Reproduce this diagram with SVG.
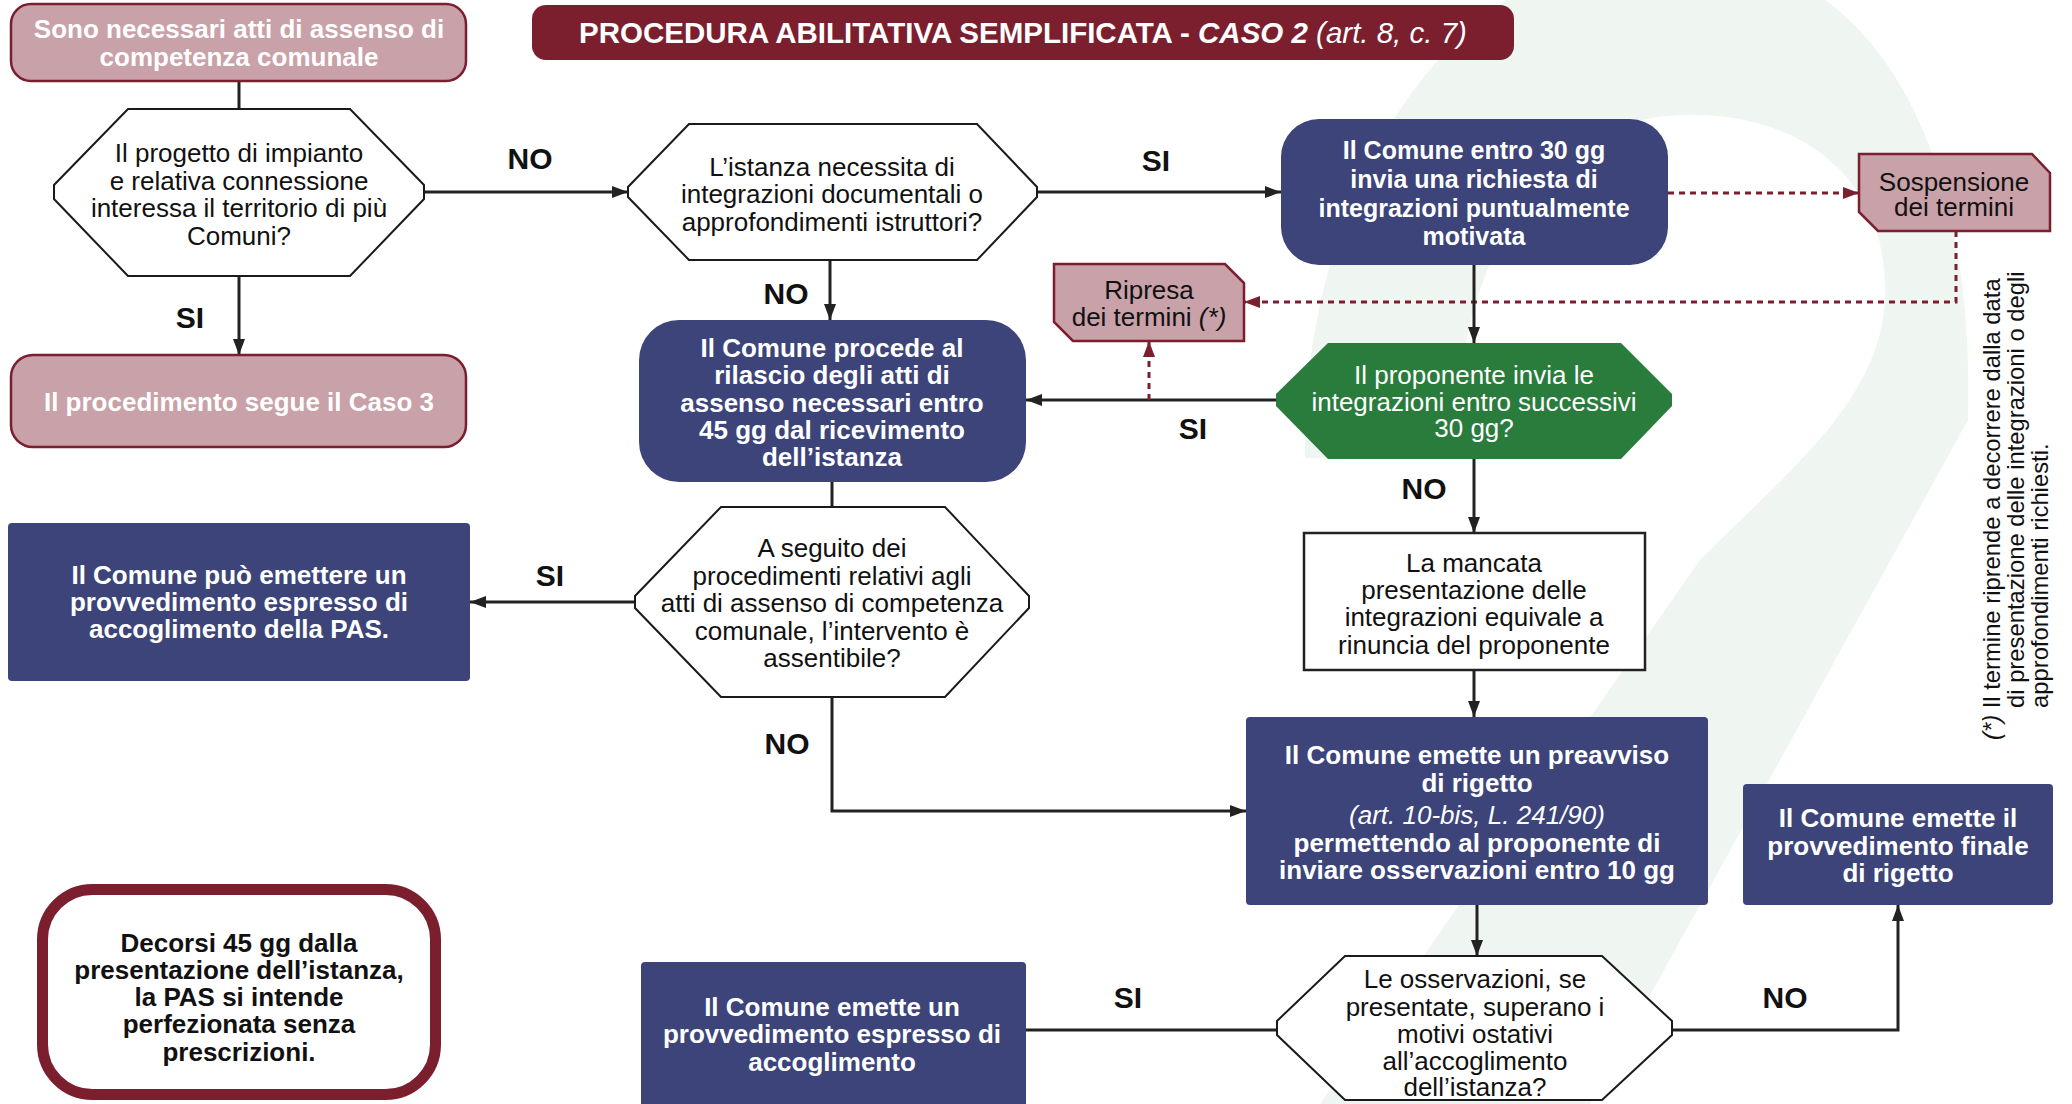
<svg xmlns="http://www.w3.org/2000/svg" width="2072" height="1104" viewBox="0 0 2072 1104">
<style>
.t{font-family:"Liberation Sans",Arial,Helvetica,sans-serif;font-size:26px;text-anchor:middle;fill:#111}
.w{fill:#fff}
.b{font-weight:bold}
.i{font-style:italic}
.lbl{font-family:"Liberation Sans",Arial,Helvetica,sans-serif;font-size:30px;font-weight:bold;text-anchor:middle;fill:#111}
.pink{fill:#c9a1a9;stroke:#7b1f2f;stroke-width:2.5}
.navy{fill:#3c4479}
.hex{fill:#fff;stroke:#1a1a1a;stroke-width:2}
.ln{fill:none;stroke:#222;stroke-width:3}
.dot{fill:none;stroke:#7b1f2f;stroke-width:3;stroke-dasharray:6 5}
</style>
<defs>
<marker id="ah" viewBox="0 0 16 12" refX="16" refY="6" markerWidth="16" markerHeight="12" markerUnits="userSpaceOnUse" orient="auto"><path d="M0,0 L16,6 L0,12 Z" fill="#222"/></marker>
<marker id="ahr" viewBox="0 0 16 12" refX="16" refY="6" markerWidth="16" markerHeight="12" markerUnits="userSpaceOnUse" orient="auto"><path d="M0,0 L16,6 L0,12 Z" fill="#7b1f2f"/></marker>
</defs>
<rect width="2072" height="1104" fill="#fff"/>
<path id="watermark" fill="#eff5f0" d="M1305,458 C1300,200 1450,-60 1680,-50 C1880,-40 1975,150 1968,420 L1590,1104 L1320,1104 L1700,560 C1790,470 1880,400 1885,300 C1890,170 1790,110 1680,115 C1550,120 1455,250 1455,458 Z"/>

<g id="connectors">
<path class="ln" d="M239,81 V109"/>
<path class="ln" d="M239,276 V355" marker-end="url(#ah)"/>
<path class="ln" d="M424,192 H628" marker-end="url(#ah)"/>
<path class="ln" d="M1037,192 H1281" marker-end="url(#ah)"/>
<path class="dot" d="M1668,193 H1859" marker-end="url(#ahr)"/>
<path class="dot" d="M1956,231 V302 H1244" marker-end="url(#ahr)"/>
<path class="ln" d="M1474,265 V343" marker-end="url(#ah)"/>
<path class="ln" d="M1276,400 H1026" marker-end="url(#ah)"/>
<path class="dot" d="M1149,400 V341" marker-end="url(#ahr)"/>
<path class="ln" d="M830,260 V320" marker-end="url(#ah)"/>
<path class="ln" d="M832,482 V507"/>
<path class="ln" d="M635,602 H470" marker-end="url(#ah)"/>
<path class="ln" d="M832,697 V811 H1246" marker-end="url(#ah)"/>
<path class="ln" d="M1474,459 V533" marker-end="url(#ah)"/>
<path class="ln" d="M1474,670 V717" marker-end="url(#ah)"/>
<path class="ln" d="M1477,905 V956" marker-end="url(#ah)"/>
<path class="ln" d="M1277,1030 H1026"/>
<path class="ln" d="M1672,1030 H1898 V905" marker-end="url(#ah)"/>
<text class="lbl" x="190" y="328">SI</text>
<text class="lbl" x="530" y="169">NO</text>
<text class="lbl" x="1156" y="171">SI</text>
<text class="lbl" x="1193" y="439">SI</text>
<text class="lbl" x="786" y="304">NO</text>
<text class="lbl" x="550" y="586">SI</text>
<text class="lbl" x="787" y="754">NO</text>
<text class="lbl" x="1424" y="499">NO</text>
<text class="lbl" x="1128" y="1008">SI</text>
<text class="lbl" x="1785" y="1008">NO</text>
</g>

<g id="title">
<rect x="532" y="5" width="982" height="55" rx="14" fill="#7b1f2f"/>
<text class="t w b" x="1023" y="43" style="font-size:29.5px">PROCEDURA ABILITATIVA SEMPLIFICATA - <tspan class="i">CASO 2</tspan><tspan style="font-weight:normal;font-style:italic"> (art. 8, c. 7)</tspan></text>
</g>

<g id="n-start">
<rect class="pink" x="11" y="4" width="455" height="77" rx="20"/>
<text class="t w b" x="239" y="38">Sono necessari atti di assenso di</text>
<text class="t w b" x="239" y="66">competenza comunale</text>
</g>

<g id="n-q1">
<polygon class="hex" points="128,109 350,109 424,185 424,199 350,276 128,276 54,199 54,185"/>
<text class="t" x="239" y="162">Il progetto di impianto</text>
<text class="t" x="239" y="189.5">e relativa connessione</text>
<text class="t" x="239" y="217">interessa il territorio di più</text>
<text class="t" x="239" y="244.5">Comuni?</text>
</g>

<g id="n-caso3">
<rect class="pink" x="11" y="355" width="455" height="92" rx="22"/>
<text class="t w b" x="239" y="411">Il procedimento segue il Caso 3</text>
</g>

<g id="n-q2">
<polygon class="hex" points="689,124 977,124 1037,187 1037,197 977,260 689,260 628,197 628,187"/>
<text class="t" x="832" y="176">L’istanza necessita di</text>
<text class="t" x="832" y="203">integrazioni documentali o</text>
<text class="t" x="832" y="231">approfondimenti istruttori?</text>
</g>

<g id="n-richiesta">
<rect class="navy" x="1281" y="119" width="387" height="146" rx="38"/>
<text class="t w b" x="1474" y="159" style="font-size:25px">Il Comune entro 30 gg</text>
<text class="t w b" x="1474" y="188" style="font-size:25px">invia una richiesta di</text>
<text class="t w b" x="1474" y="216.5" style="font-size:25px">integrazioni puntualmente</text>
<text class="t w b" x="1474" y="245" style="font-size:25px">motivata</text>
</g>

<g id="n-sospensione">
<path class="pink" d="M1859,154 L2032,154 L2050,173 L2050,231 L1878,231 L1859,212 Z"/>
<text class="t" x="1954" y="191">Sospensione</text>
<text class="t" x="1954" y="216">dei termini</text>
</g>

<g id="n-ripresa">
<path class="pink" d="M1054,264 L1225,264 L1244,283 L1244,341 L1073,341 L1054,322 Z"/>
<text class="t" x="1149" y="299">Ripresa</text>
<text class="t" x="1149" y="326">dei termini <tspan class="i">(*)</tspan></text>
</g>

<g id="n-q3">
<polygon fill="#2a7c3d" points="1328,343 1621,343 1672,394 1672,406 1621,459 1328,459 1276,406 1276,394"/>
<text class="t w" x="1474" y="384">Il proponente invia le</text>
<text class="t w" x="1474" y="411">integrazioni entro successivi</text>
<text class="t w" x="1474" y="437">30 gg?</text>
</g>

<g id="n-rilascio">
<rect class="navy" x="639" y="320" width="387" height="162" rx="40"/>
<text class="t w b" x="832" y="357">Il Comune procede al</text>
<text class="t w b" x="832" y="384">rilascio degli atti di</text>
<text class="t w b" x="832" y="412">assenso necessari entro</text>
<text class="t w b" x="832" y="439">45 gg dal ricevimento</text>
<text class="t w b" x="832" y="466">dell’istanza</text>
</g>

<g id="n-q4">
<polygon class="hex" points="721,507 945,507 1029,596 1029,608 945,697 721,697 635,608 635,596"/>
<text class="t" x="832" y="557">A seguito dei</text>
<text class="t" x="832" y="585">procedimenti relativi agli</text>
<text class="t" x="832" y="612">atti di assenso di competenza</text>
<text class="t" x="832" y="640">comunale, l’intervento è</text>
<text class="t" x="832" y="667">assentibile?</text>
</g>

<g id="n-accoglimento-pas">
<rect class="navy" x="8" y="523" width="462" height="158" rx="4"/>
<text class="t w b" x="239" y="584">Il Comune può emettere un</text>
<text class="t w b" x="239" y="611">provvedimento espresso di</text>
<text class="t w b" x="239" y="638">accoglimento della PAS.</text>
</g>

<g id="n-rinuncia">
<rect x="1304" y="533" width="341" height="137" fill="#fff" stroke="#222" stroke-width="2.5"/>
<text class="t" x="1474" y="572">La mancata</text>
<text class="t" x="1474" y="599">presentazione delle</text>
<text class="t" x="1474" y="626">integrazioni equivale a</text>
<text class="t" x="1474" y="654">rinuncia del proponente</text>
</g>

<g id="n-preavviso">
<rect class="navy" x="1246" y="717" width="462" height="188" rx="4"/>
<text class="t w b" x="1477" y="764">Il Comune emette un preavviso</text>
<text class="t w b" x="1477" y="792">di rigetto</text>
<text class="t w i" x="1477" y="824">(art. 10-bis, L. 241/90)</text>
<text class="t w b" x="1477" y="852">permettendo al proponente di</text>
<text class="t w b" x="1477" y="879">inviare osservazioni entro 10 gg</text>
</g>

<g id="n-q5">
<polygon class="hex" points="1345,956 1602,956 1672,1021 1672,1035 1602,1100 1345,1100 1277,1035 1277,1021"/>
<text class="t" x="1475" y="988">Le osservazioni, se</text>
<text class="t" x="1475" y="1016">presentate, superano i</text>
<text class="t" x="1475" y="1043">motivi ostativi</text>
<text class="t" x="1475" y="1070">all’accoglimento</text>
<text class="t" x="1475" y="1096">dell’istanza?</text>
</g>

<g id="n-accoglimento">
<rect class="navy" x="641" y="962" width="385" height="150" rx="4"/>
<text class="t w b" x="832" y="1016">Il Comune emette un</text>
<text class="t w b" x="832" y="1043">provvedimento espresso di</text>
<text class="t w b" x="832" y="1071">accoglimento</text>
</g>

<g id="n-rigetto">
<rect class="navy" x="1743" y="784" width="310" height="121" rx="4"/>
<text class="t w b" x="1898" y="827">Il Comune emette il</text>
<text class="t w b" x="1898" y="855">provvedimento finale</text>
<text class="t w b" x="1898" y="882">di rigetto</text>
</g>

<g id="n-silenzio">
<rect x="42.5" y="889.5" width="393" height="205" rx="50" fill="#fff" stroke="#7b1f2f" stroke-width="11"/>
<text class="t b" x="239" y="952">Decorsi 45 gg dalla</text>
<text class="t b" x="239" y="979">presentazione dell’istanza,</text>
<text class="t b" x="239" y="1006">la PAS si intende</text>
<text class="t b" x="239" y="1033">perfezionata senza</text>
<text class="t b" x="239" y="1061">prescrizioni.</text>
</g>

<g id="footnote">
<text transform="rotate(-90)" style="font-family:'Liberation Sans',Arial,sans-serif;font-size:23.8px;fill:#111"><tspan x="-740" y="2000" font-style="italic">(*)</tspan><tspan> Il termine riprende a decorrere dalla data</tspan><tspan x="-708" y="2024">di presentazione delle integrazioni o degli</tspan><tspan x="-708" y="2048">approfondimenti richiesti.</tspan></text>
</g>
</svg>
